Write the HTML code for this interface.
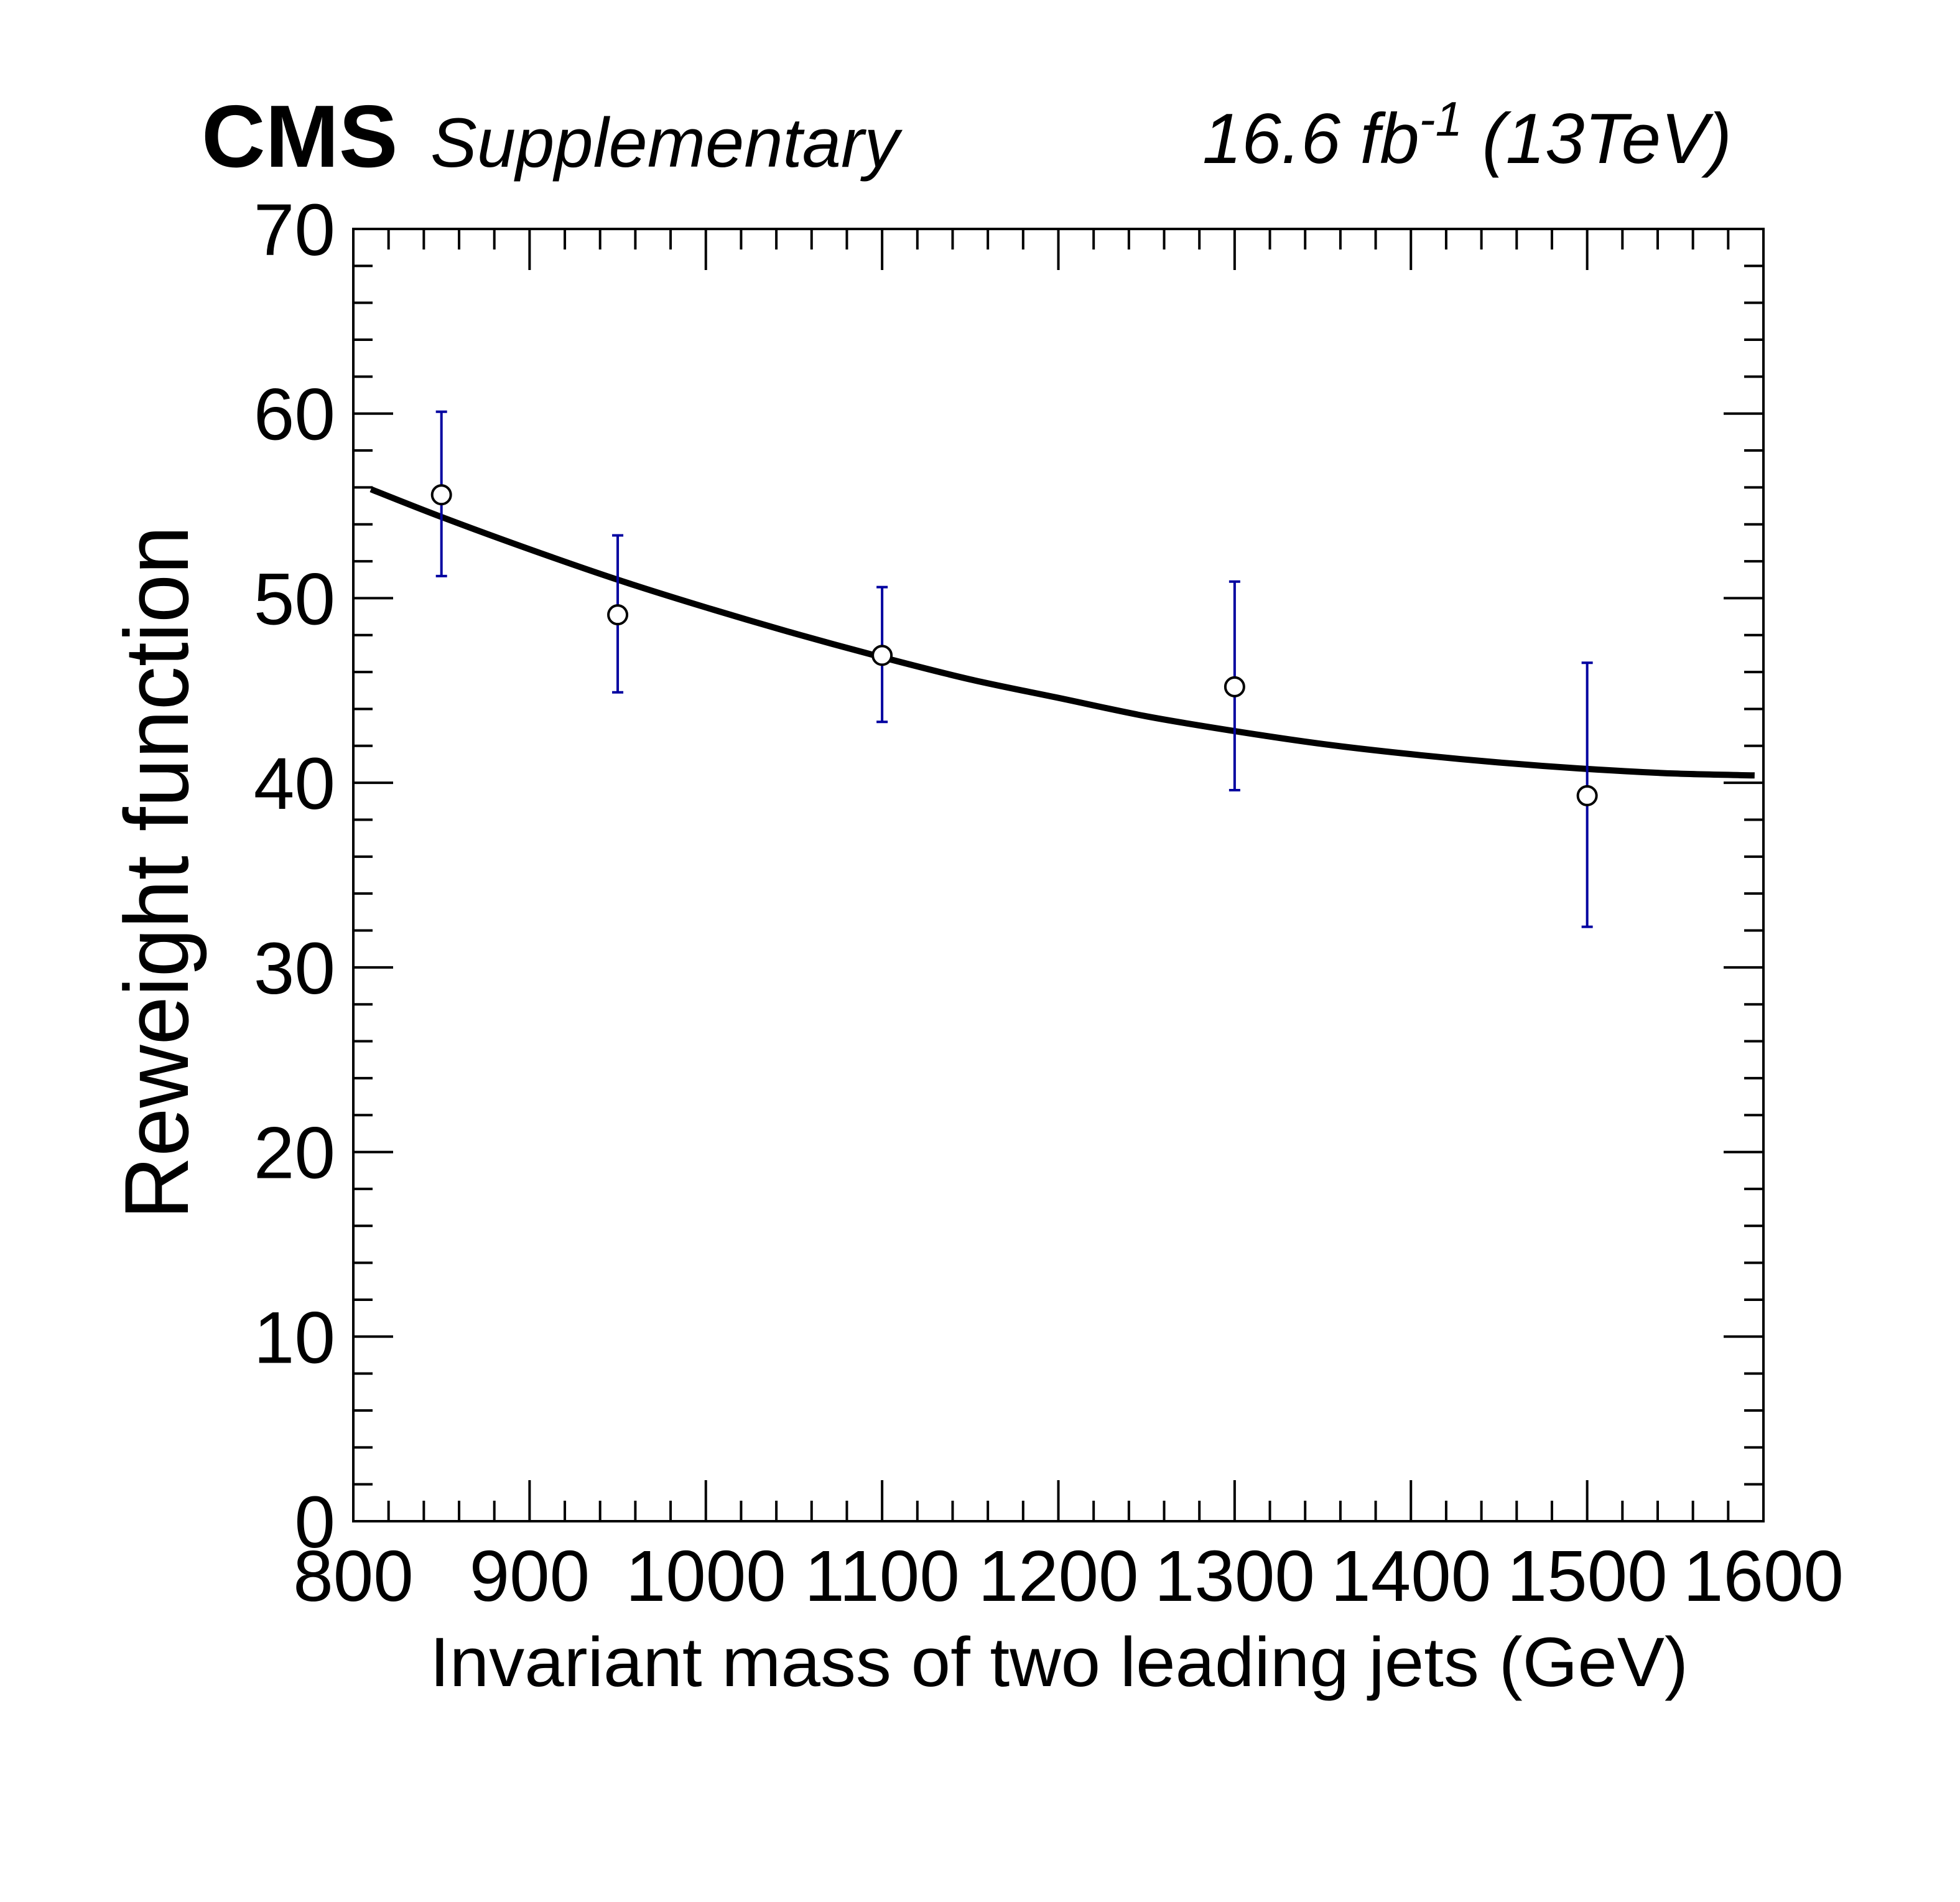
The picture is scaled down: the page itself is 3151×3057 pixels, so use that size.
<!DOCTYPE html>
<html><head><meta charset="utf-8"><style>
html,body{margin:0;padding:0;background:#fff;}
svg{display:block;}
text{font-family:"Liberation Sans",sans-serif;fill:#000;}
</style></head><body>
<svg id="chart" width="3151" height="3057" viewBox="0 0 3151 3057" xmlns="http://www.w3.org/2000/svg">
<rect x="0" y="0" width="3151" height="3057" fill="#fff"/>
<text x="324" y="268" font-size="142" font-weight="bold">CMS</text>
<text x="692" y="268" font-size="112" font-style="italic">Supplementary</text>
<text x="2784" y="262" font-size="114" font-style="italic" text-anchor="end">16.6 fb<tspan dy="-44" font-size="78">-1</tspan><tspan dy="44"> (13TeV)</tspan></text>
<g id="axes"></g>
<g id="marks"></g>
<rect x="568" y="368" width="2267" height="2077" fill="none" stroke="#000" stroke-width="4"/>
<text x="691" y="2710" font-size="112" textLength="2023" lengthAdjust="spacingAndGlyphs">Invariant mass of two leading jets (GeV)</text>
<text transform="translate(302,1960) rotate(-90)" x="0" y="0" font-size="146" textLength="1115" lengthAdjust="spacingAndGlyphs">Reweight function</text>
</svg>
<script>
const xTicks = [800,900,1000,1100,1200,1300,1400,1500,1600];
const yTicks = [0,10,20,30,40,50,60,70];
const pointX = [850,950,1100,1300,1500];
const pointY = [55.6,49.1,46.9,45.2,39.3];
const errLow = [51.2,44.9,43.3,39.6,32.2];
const errHigh = [60.1,53.4,50.6,50.9,46.5];
const curveX = [810,850,900,950,1000,1050,1100,1150,1200,1250,1300,1350,1400,1450,1500,1550,1595];
const curveY = [55.9,54.4,52.65,51.0,49.5,48.1,46.8,45.6,44.6,43.6,42.8,42.1,41.55,41.1,40.75,40.5,40.4];

const L=568,R=2835,T=368,B=2445,X0=800,X1=1600,Y0=0,Y1=70;
const sx=v=>L+(v-X0)/(X1-X0)*(R-L);
const sy=v=>B-(v-Y0)/(Y1-Y0)*(B-T);
const NS="http://www.w3.org/2000/svg";
function mk(tag,attrs,parent){const e=document.createElementNS(NS,tag);for(const k in attrs)e.setAttribute(k,attrs[k]);parent.appendChild(e);return e;}
const axes=document.getElementById('axes');
const marks=document.getElementById('marks');

for(let v=X0;v<=X1;v+=20){
  const major=(v%100===0);const len=major?66:33;const x=sx(v);
  const t1=mk('line',{x1:x,y1:B,x2:x,y2:B-len,stroke:'#000','stroke-width':4},axes);
  
  
  const t2=mk('line',{x1:x,y1:T,x2:x,y2:T+len,stroke:'#000','stroke-width':4},axes);
  
  
}
xTicks.forEach(v=>{
  const t=mk('text',{x:sx(v),y:2573,'font-size':116,'text-anchor':'middle'},axes);
  t.textContent=String(v);
  
  
});
for(let v=Y0;v<=Y1;v+=2){
  const major=(v%10===0);const len=major?64:31;const y=sy(v);
  const t1=mk('line',{x1:L,y1:y,x2:L+len,y2:y,stroke:'#000','stroke-width':4},axes);
  
  
  const t2=mk('line',{x1:R,y1:y,x2:R-len,y2:y,stroke:'#000','stroke-width':4},axes);
  
  
}
yTicks.forEach(v=>{
  const t=mk('text',{x:539,y:sy(v)+42,'font-size':118,'text-anchor':'end'},axes);
  t.textContent=String(v);
  
  
});
// smooth fit curve (Catmull-Rom through the read values)
const P=curveX.map((x,i)=>[sx(x),sy(curveY[i])]);
let d='M'+P[0][0]+','+P[0][1];
for(let i=0;i<P.length-1;i++){
  const p0=P[Math.max(i-1,0)],p1=P[i],p2=P[i+1],p3=P[Math.min(i+2,P.length-1)];
  const c1=[p1[0]+(p2[0]-p0[0])/6,p1[1]+(p2[1]-p0[1])/6];
  const c2=[p2[0]-(p3[0]-p1[0])/6,p2[1]-(p3[1]-p1[1])/6];
  d+=' C'+c1[0]+','+c1[1]+' '+c2[0]+','+c2[1]+' '+p2[0]+','+p2[1];
}
const c=mk('path',{d:d,fill:'none',stroke:'#000','stroke-width':10,'stroke-linejoin':'round'},marks);


pointX.forEach((xv,i)=>{
  const x=sx(xv);const g=mk('g',{},marks);
  
  
  const col='#0000a0';
  mk('line',{x1:x,y1:sy(errLow[i]),x2:x,y2:sy(errHigh[i]),stroke:col,'stroke-width':4},g);
  mk('line',{x1:x-9,y1:sy(errLow[i]),x2:x+9,y2:sy(errLow[i]),stroke:col,'stroke-width':4},g);
  mk('line',{x1:x-9,y1:sy(errHigh[i]),x2:x+9,y2:sy(errHigh[i]),stroke:col,'stroke-width':4},g);
  mk('circle',{cx:x,cy:sy(pointY[i]),r:15,fill:'#fff',stroke:'#000','stroke-width':4},g);
});
</script>
</body></html>
